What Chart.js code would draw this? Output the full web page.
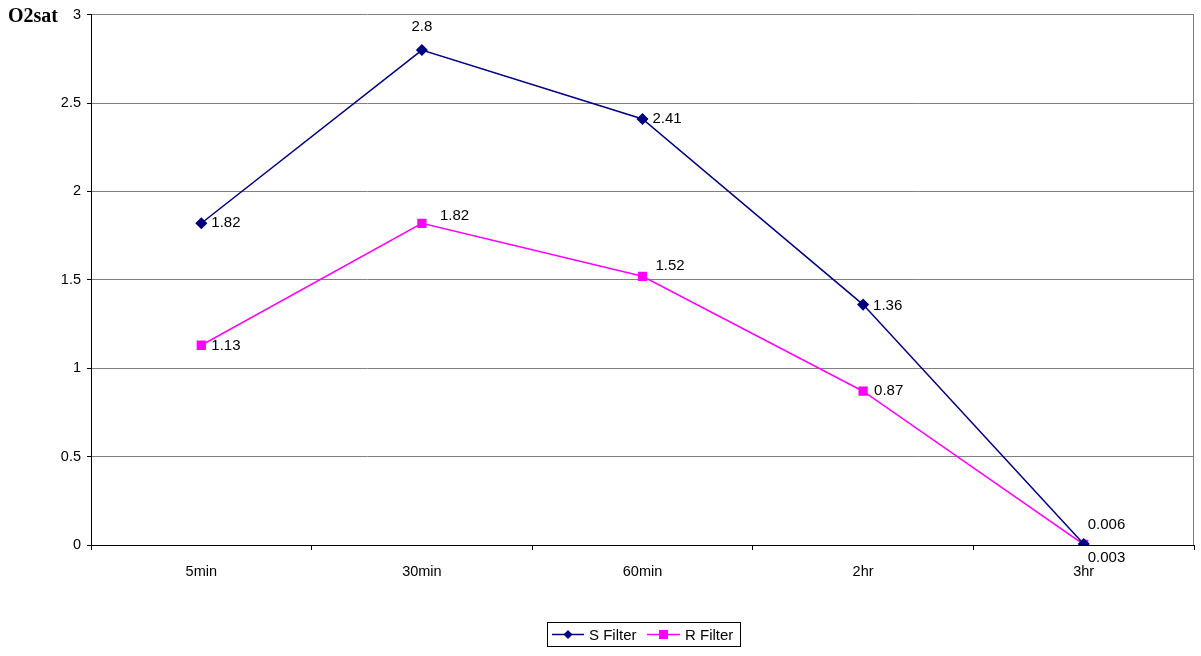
<!DOCTYPE html>
<html>
<head>
<meta charset="utf-8">
<script src="https://cdn.jsdelivr.net/npm/chart.js@4/dist/chart.umd.min.js"></script>
<style>
html,body{margin:0;padding:0;background:#fff;}
#wrap{width:1201px;height:656px;position:relative;}
</style>
</head>
<body>
<div id="wrap"><canvas id="c" width="1201" height="656"></canvas></div>
<script>
const categories = ['5min', '30min', '60min', '2hr', '3hr'];
const sFilter = [1.82, 2.8, 2.41, 1.36, 0.006];
const rFilter = [1.13, 1.82, 1.52, 0.87, 0.003];
const sLabels = ['1.82', '2.8', '2.41', '1.36', '0.006'];
const rLabels = ['1.13', '1.82', '1.52', '0.87', '0.003'];
const yTitle = 'O2sat';

// label placement offsets (styling only)
const sOffsets = [[10,0,'left'],[0,-23,'center'],[10,0,'left'],[10,1,'left'],[4,-19,'left']];
const rOffsets = [[10,1,'left'],[18,-7,'left'],[13,-10,'left'],[11,0,'left'],[4,13,'left']];

const NAVY = '#000080';
const MAG = '#FF00FF';
const FONT = '"Liberation Sans", Arial, sans-serif';

const extras = {
  id: 'extras',
  beforeDatasetsDraw(chart) {
    const ctx = chart.ctx, a = chart.chartArea;
    ctx.save();
    ctx.strokeStyle = '#808080';
    ctx.lineWidth = 1;
    ctx.beginPath();
    ctx.moveTo(Math.round(a.right) - 0.5, a.top);
    ctx.lineTo(Math.round(a.right) - 0.5, a.bottom);
    ctx.stroke();
    ctx.restore();
  },
  afterDraw(chart) {
    const ctx = chart.ctx;
    ctx.save();
    // y title
    ctx.font = 'bold 20px "Liberation Serif", "Times New Roman", serif';
    ctx.fillStyle = '#000';
    ctx.textBaseline = 'middle';
    ctx.textAlign = 'left';
    ctx.fillText(yTitle, 8, 17);

    // data labels
    ctx.font = '15px ' + FONT;
    const sets = [[0, sLabels, sOffsets], [1, rLabels, rOffsets]];
    sets.forEach(([di, labels, offs]) => {
      const meta = chart.getDatasetMeta(di);
      meta.data.forEach((pt, i) => {
        const o = offs[i];
        ctx.textAlign = o[2];
        ctx.fillText(labels[i], pt.x + o[0], pt.y + o[1]);
      });
    });

    // legend
    const bx = 547.5, by = 622.5, bw = 193, bh = 24;
    ctx.strokeStyle = '#000';
    ctx.lineWidth = 1;
    ctx.strokeRect(bx, by, bw, bh);
    const cy = by + bh / 2;
    // S Filter
    ctx.strokeStyle = NAVY; ctx.lineWidth = 1.5;
    ctx.beginPath(); ctx.moveTo(552, cy); ctx.lineTo(584, cy); ctx.stroke();
    ctx.fillStyle = NAVY;
    ctx.beginPath(); ctx.moveTo(568, cy - 4.5); ctx.lineTo(572.5, cy); ctx.lineTo(568, cy + 4.5); ctx.lineTo(563.5, cy); ctx.closePath(); ctx.fill();
    ctx.fillStyle = '#000'; ctx.textAlign = 'left'; ctx.font = '15px ' + FONT;
    ctx.fillText('S Filter', 589, cy + 1);
    // R Filter
    ctx.strokeStyle = MAG;
    ctx.beginPath(); ctx.moveTo(647, cy); ctx.lineTo(680, cy); ctx.stroke();
    ctx.fillStyle = MAG;
    ctx.fillRect(659, cy - 4.5, 9, 9);
    ctx.fillStyle = '#000';
    ctx.fillText('R Filter', 685, cy + 1);
    ctx.restore();
  }
};

new Chart(document.getElementById('c'), {
  type: 'line',
  data: {
    labels: categories,
    datasets: [
      {
        label: 'S Filter', data: sFilter,
        borderColor: NAVY, backgroundColor: NAVY, borderWidth: 1.5,
        pointStyle: 'rectRot', pointRadius: 5, pointHoverRadius: 5,
        tension: 0, fill: false
      },
      {
        label: 'R Filter', data: rFilter,
        borderColor: MAG, backgroundColor: MAG, borderWidth: 1.5,
        pointStyle: 'rect', pointRadius: 5.5, pointHoverRadius: 5.5,
        tension: 0, fill: false
      }
    ]
  },
  options: {
    responsive: false,
    animation: false,
    events: [],
    layout: { padding: { top: 14, right: 3, left: 0, bottom: 0 } },
    plugins: { legend: { display: false }, tooltip: { enabled: false } },
    scales: {
      x: {
        offset: true,
        grid: { offset: true, drawOnChartArea: false, drawTicks: true, tickLength: 5, color: '#000' },
        border: { color: '#000', width: 1 },
        ticks: { color: '#000', font: { family: FONT, size: 14.5 }, padding: 13, maxRotation: 0 },
        afterFit(s) { s.height = 111; s.paddingRight = 0; s.paddingLeft = 0; }
      },
      y: {
        min: 0, max: 3,
        grid: { color: '#808080', tickColor: '#000', tickLength: 4, lineWidth: 1 },
        border: { color: '#000', width: 1 },
        ticks: {
          stepSize: 0.5, color: '#000', font: { family: FONT, size: 14.5 }, padding: 6,
          callback: (v) => String(Number(v))
        },
        afterFit(s) { s.width = 91; }
      }
    }
  },
  plugins: [extras]
});
</script>
</body>
</html>
